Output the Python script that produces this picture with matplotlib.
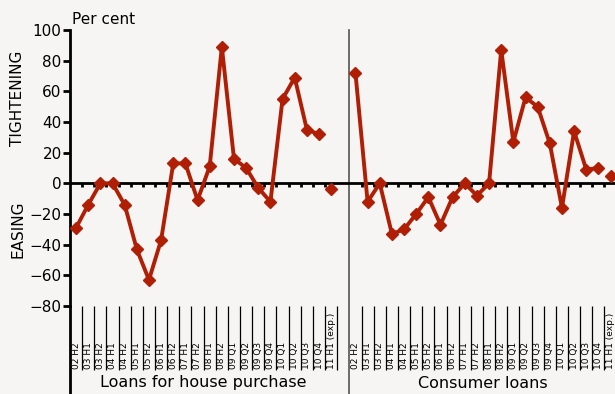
import numpy as np
import matplotlib.pyplot as plt
from matplotlib.transforms import blended_transform_factory

periods = ["02 H2", "03 H1", "03 H2", "04 H1", "04 H2", "05 H1", "05 H2",
           "06 H1", "06 H2", "07 H1", "07 H2", "08 H1", "08 H2", "09 Q1",
           "09 Q2", "09 Q3", "09 Q4", "10 Q1", "10 Q2", "10 Q3", "10 Q4",
           "11 H1 (exp.)"]

# net percentage of banks tightening credit standards
house = [-29, -14, 0, 0, -14, -43, -63, -37, 13, 13, -11, 11, 89, 16,
         10, -3, -12, 55, 69, 35, 32, -4]
consumer = [72, -12, 0, -33, -30, -20, -9, -27, -9, 0, -8, 0, 87, 27,
            56, 50, 26, -16, 34, 9, 10, 5]

groups = ["Loans for house purchase", "Consumer loans"]
yticks = [100, 80, 60, 40, 20, 0, -20, -40, -60, -80]

red = "#b01e05"
bg = "#f6f5f3"

fig = plt.figure(figsize=(6.15, 3.94), dpi=100, facecolor=bg)
ax = fig.add_axes([70 / 615, 1 - 306 / 394, 546 / 615, 276 / 394])
ax.set_facecolor(bg)

n = len(periods)
x_left = np.arange(n)
x_right = np.arange(n) + n + 1  # one empty slot after the left panel

for xs, ys in [(x_left, house), (x_right, consumer)]:
    # last point is an expectation, plotted on its own
    ax.plot(xs[:-1], ys[:-1], color=red, lw=2.8, marker="D", ms=6.5,
            mec=red, zorder=4)
    ax.plot(xs[-1], ys[-1], color=red, marker="D", ms=6.5, mec=red,
            ls="none", zorder=4)

ax.set_xlim(-0.5, 2 * n + 0.45)
ax.set_ylim(-80, 100)
ax.set_yticks(yticks)
ax.set_yticklabels(["\u2212" + str(-t) if t < 0 else str(t) for t in yticks],
                   fontsize=11)
ax.tick_params(axis="y", direction="out", length=5, width=2, pad=1)
ax.set_xticks([])
for s in ["top", "right", "bottom"]:
    ax.spines[s].set_visible(False)
ax.spines["left"].set_linewidth(2)

# zero line with small ticks at category boundaries
ax.axhline(0, color="black", lw=2, zorder=3)
bounds = [b - 0.5 for b in list(range(1, n)) + list(range(n + 2, 2 * n + 1))]
ax.vlines(bounds, -2.6, 0, color="black", lw=2, zorder=3)

# category separators and labels under the plot
tr = blended_transform_factory(ax.transData, ax.transAxes)
low = -(370 - 306) / 276
ax.vlines(bounds + [n - 0.5, 2 * n + 0.5 - 0.05], low, 0, color="black",
          lw=0.9, transform=tr, clip_on=False)
ax.plot([-0.5, -0.5], [0, -88 / 276], color="black", lw=2, transform=tr,
        clip_on=False)
ax.plot([n + 0.5, n + 0.5], [1, -88 / 276], color="#555555", lw=1.2,
        transform=tr, clip_on=False)
for xs in [x_left, x_right]:
    for xi, lab in zip(xs, periods):
        ax.text(xi, low + 0.005, lab, rotation=90, ha="center", va="bottom",
                fontsize=6.5, transform=tr)

ax.text(n / 2 - 0.5, -(383 - 306) / 276, groups[0], ha="center",
        va="center", fontsize=11.5, transform=tr)
ax.text(n + 1 + n / 2 - 0.5, -(383 - 306) / 276, groups[1], ha="center",
        va="center", fontsize=11.5, transform=tr)

fig.text(72 / 615, 1 - 19 / 394, "Per cent", fontsize=11, va="center")
fig.text(18 / 615, 1 - 98 / 394, "TIGHTENING", rotation=90, fontsize=11,
         ha="center", va="center")
fig.text(18 / 615, 1 - 229 / 394, "EASING", rotation=90, fontsize=11,
         ha="center", va="center")

fig.savefig("out.png", dpi=100, facecolor=bg)
